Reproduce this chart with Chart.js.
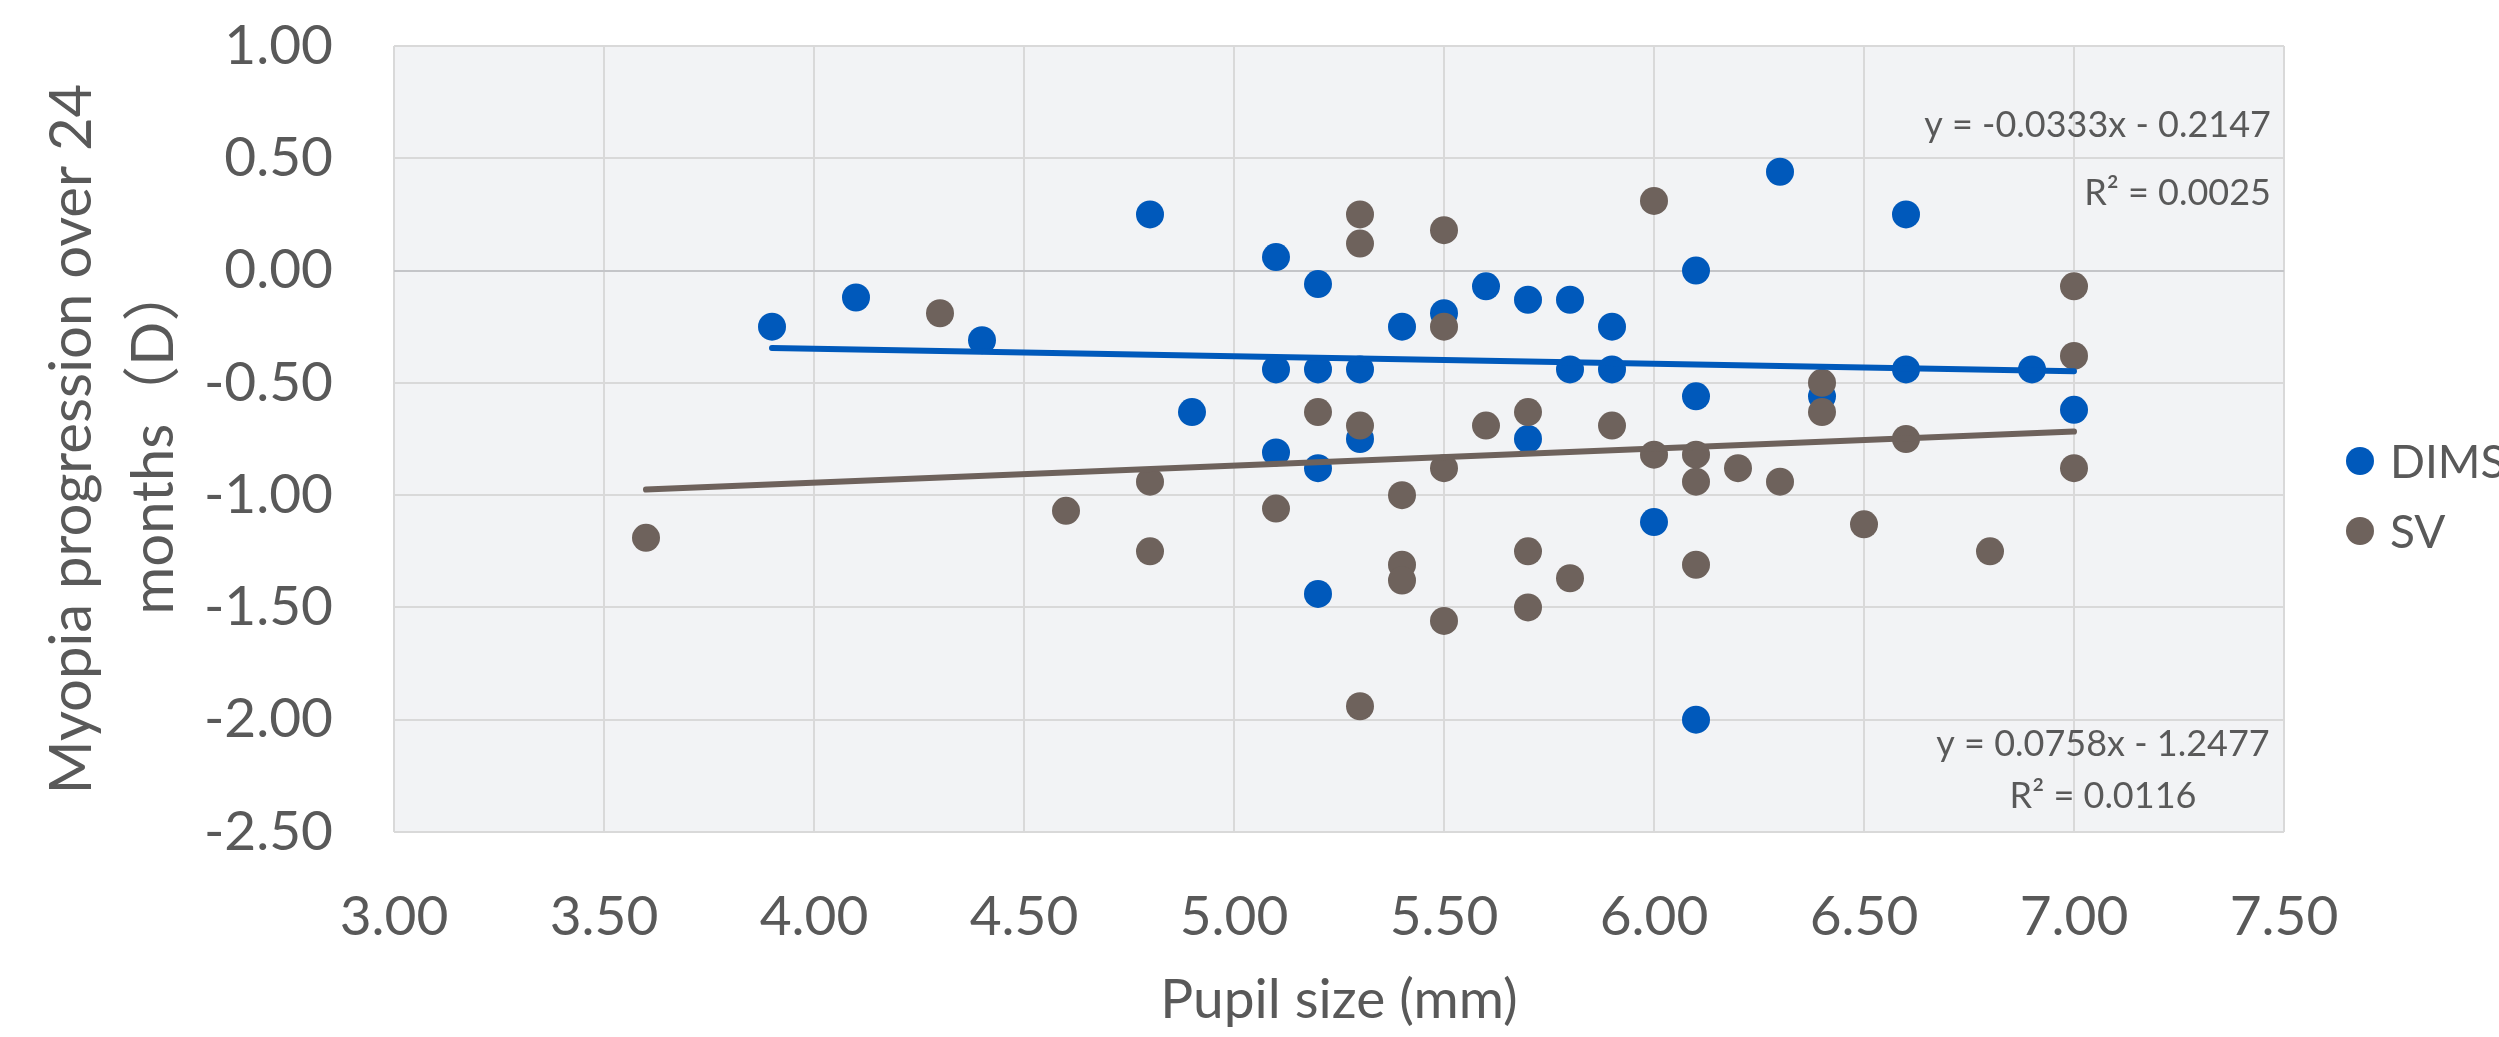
<!DOCTYPE html>
<html>
<head>
<meta charset="utf-8">
<title>Pupil size vs myopia progression</title>
<script src="https://cdn.jsdelivr.net/npm/chart.js@4.4.1/dist/chart.umd.min.js"></script>
<style>
    html, body { margin: 0; padding: 0; background: #ffffff; overflow: hidden; }
    #wrap { width: 2499px; height: 1037px; position: relative; }
</style>
</head>
<body>
<div id="wrap"><canvas id="scatter-chart"></canvas></div>
<script>
// data
var dimsPupil = [3.9, 4.1, 4.4, 4.8, 4.9, 5.1, 5.1, 5.1, 5.2, 5.2, 5.2, 5.2, 5.3, 5.3, 5.4, 5.5, 5.6,
    5.7, 5.7, 5.8, 5.8, 5.9, 5.9, 6.0, 6.1, 6.1, 6.1, 6.3, 6.4, 6.6, 6.6, 6.9, 7.0];
var dimsProgression = [-0.25, -0.12, -0.31, 0.25, -0.63, 0.06, -0.44, -0.81, -0.06, -0.44, -0.88, -1.44, -0.44, -0.75, -0.25, -0.19, -0.07,
    -0.13, -0.75, -0.13, -0.44, -0.25, -0.44, -1.12, 0.00, -0.56, -2.00, 0.44, -0.56, 0.25, -0.44, -0.44, -0.62];

var svPupil = [3.6, 4.3, 4.6, 4.8, 4.8, 5.1, 5.2, 5.3, 5.3, 5.3, 5.3, 5.4, 5.4, 5.4, 5.5, 5.5, 5.5, 5.5, 5.6,
    5.7, 5.7, 5.7, 5.8, 5.9, 6.0, 6.0, 6.1, 6.1, 6.1, 6.2, 6.3, 6.4, 6.4, 6.5, 6.6, 6.8, 7.0, 7.0, 7.0];
var svProgression = [-1.19, -0.19, -1.07, -0.94, -1.25, -1.06, -0.63, 0.25, 0.12, -0.69, -1.94, -1.00, -1.31, -1.38, 0.18, -0.25, -0.88, -1.56, -0.69,
    -0.63, -1.25, -1.50, -1.37, -0.69, 0.31, -0.82, -0.82, -0.94, -1.31, -0.88, -0.94, -0.50, -0.63, -1.13, -0.75, -1.25, -0.07, -0.38, -0.88];

// trendline end points as drawn
var dimsTrendX = [3.9, 7.0];
var dimsTrendY = [-0.345, -0.448];
var svTrendX = [3.6, 7.0];
var svTrendY = [-0.975, -0.717];

var dimsEquation = ['y = -0.0333x - 0.2147', 'R\u00B2 = 0.0025'];
var svEquation = ['y = 0.0758x - 1.2477', 'R\u00B2 = 0.0116'];

var seriesNames = ['DIMS', 'SV'];
var xTitle = 'Pupil size (mm)';
var yTitle = ['Myopia progression over 24', 'months\uFF08D\uFF09'];

var blue = '#0059BB';
var brown = '#6E625C';
var textColor = '#595959';
var fontFamily = "Lato, 'Noto Sans CJK SC', sans-serif";

function toPoints(xs, ys) {
    return xs.map(function (x, i) {
        return { x: x, y: ys[i] };
    });
}

Chart.defaults.font.family = fontFamily;
Chart.defaults.color = textColor;

// plot background, regression labels and the legend on the right
var extrasPlugin = {
    id: 'extras',
    beforeDraw: function (chart) {
        var a = chart.chartArea;
        var ctx = chart.ctx;
        ctx.save();
        ctx.fillStyle = '#F2F3F5';
        ctx.fillRect(a.left, a.top, a.right - a.left, a.bottom - a.top);
        ctx.restore();
    },
    afterDraw: function (chart) {
        var a = chart.chartArea;
        var ctx = chart.ctx;
        ctx.save();
        ctx.fillStyle = textColor;
        ctx.font = '36px ' + fontFamily;
        ctx.textBaseline = 'middle';

        ctx.textAlign = 'right';
        ctx.fillText(dimsEquation[0], a.right - 13, a.top + 79);
        ctx.fillText(dimsEquation[1], a.right - 13, a.top + 147);

        ctx.textAlign = 'center';
        ctx.fillText(svEquation[0], a.right - 181, a.bottom - 88);
        ctx.fillText(svEquation[1], a.right - 181, a.bottom - 36);

        // legend
        var colors = [blue, brown];
        var rows = [461, 531];
        ctx.font = '46px ' + fontFamily;
        ctx.textAlign = 'left';
        for (var i = 0; i < seriesNames.length; i++) {
            ctx.beginPath();
            ctx.fillStyle = colors[i];
            ctx.arc(a.right + 76, rows[i], 14, 0, Math.PI * 2);
            ctx.fill();
            ctx.fillStyle = textColor;
            ctx.fillText(seriesNames[i], a.right + 106, rows[i] + 2);
        }
        ctx.restore();
    }
};

var ctx = document.getElementById('scatter-chart').getContext('2d');
var scatterChart = new Chart(ctx, {
    type: 'scatter',
    data: {
        datasets: [{
            label: seriesNames[0],
            data: toPoints(dimsPupil, dimsProgression),
            backgroundColor: blue,
            borderWidth: 0,
            pointRadius: 14,
            order: 3
        }, {
            label: seriesNames[1],
            data: toPoints(svPupil, svProgression),
            backgroundColor: brown,
            borderWidth: 0,
            pointRadius: 14,
            order: 2
        }, {
            label: 'DIMS trend',
            data: toPoints(dimsTrendX, dimsTrendY),
            showLine: true,
            borderColor: blue,
            borderWidth: 6,
            borderCapStyle: 'round',
            pointRadius: 0,
            order: 1
        }, {
            label: 'SV trend',
            data: toPoints(svTrendX, svTrendY),
            showLine: true,
            borderColor: brown,
            borderWidth: 6,
            borderCapStyle: 'round',
            pointRadius: 0,
            order: 0
        }]
    },
    options: {
        responsive: true,
        maintainAspectRatio: false,
        animation: false,
        devicePixelRatio: 1,
        layout: {
            padding: { top: 0, right: 215, bottom: 0, left: 0 }
        },
        plugins: {
            legend: { display: false },
            tooltip: { enabled: false }
        },
        scales: {
            x: {
                type: 'linear',
                min: 3,
                max: 7.5,
                ticks: {
                    stepSize: 0.5,
                    padding: 52,
                    font: { size: 55 },
                    color: textColor,
                    callback: function (value) { return value.toFixed(2); }
                },
                grid: { color: '#D9D9D9', lineWidth: 2, drawTicks: false },
                border: { display: false },
                title: {
                    display: true,
                    text: xTitle,
                    color: textColor,
                    font: { size: 55, lineHeight: 1.2 },
                    padding: { top: 0, bottom: 4 }
                },
                afterFit: function (scale) { scale.height = 205; }
            },
            y: {
                type: 'linear',
                min: -2.5,
                max: 1,
                ticks: {
                    stepSize: 0.5,
                    padding: 61,
                    font: { size: 55 },
                    color: textColor,
                    callback: function (value) { return value.toFixed(2); }
                },
                grid: {
                    color: function (c) { return c.tick && c.tick.value === 0 ? '#C4C5C8' : '#D9D9D9'; },
                    lineWidth: 2,
                    drawTicks: false
                },
                border: { display: false },
                title: {
                    display: true,
                    text: yTitle,
                    color: textColor,
                    font: { size: 58, lineHeight: 1.4 },
                    padding: { top: 32, bottom: 0 }
                },
                afterFit: function (scale) {
                    scale.width = 394;
                    scale.paddingTop = 46;
                    scale.paddingBottom = 0;
                }
            }
        }
    },
    plugins: [extrasPlugin]
});
</script>
</body>
</html>
